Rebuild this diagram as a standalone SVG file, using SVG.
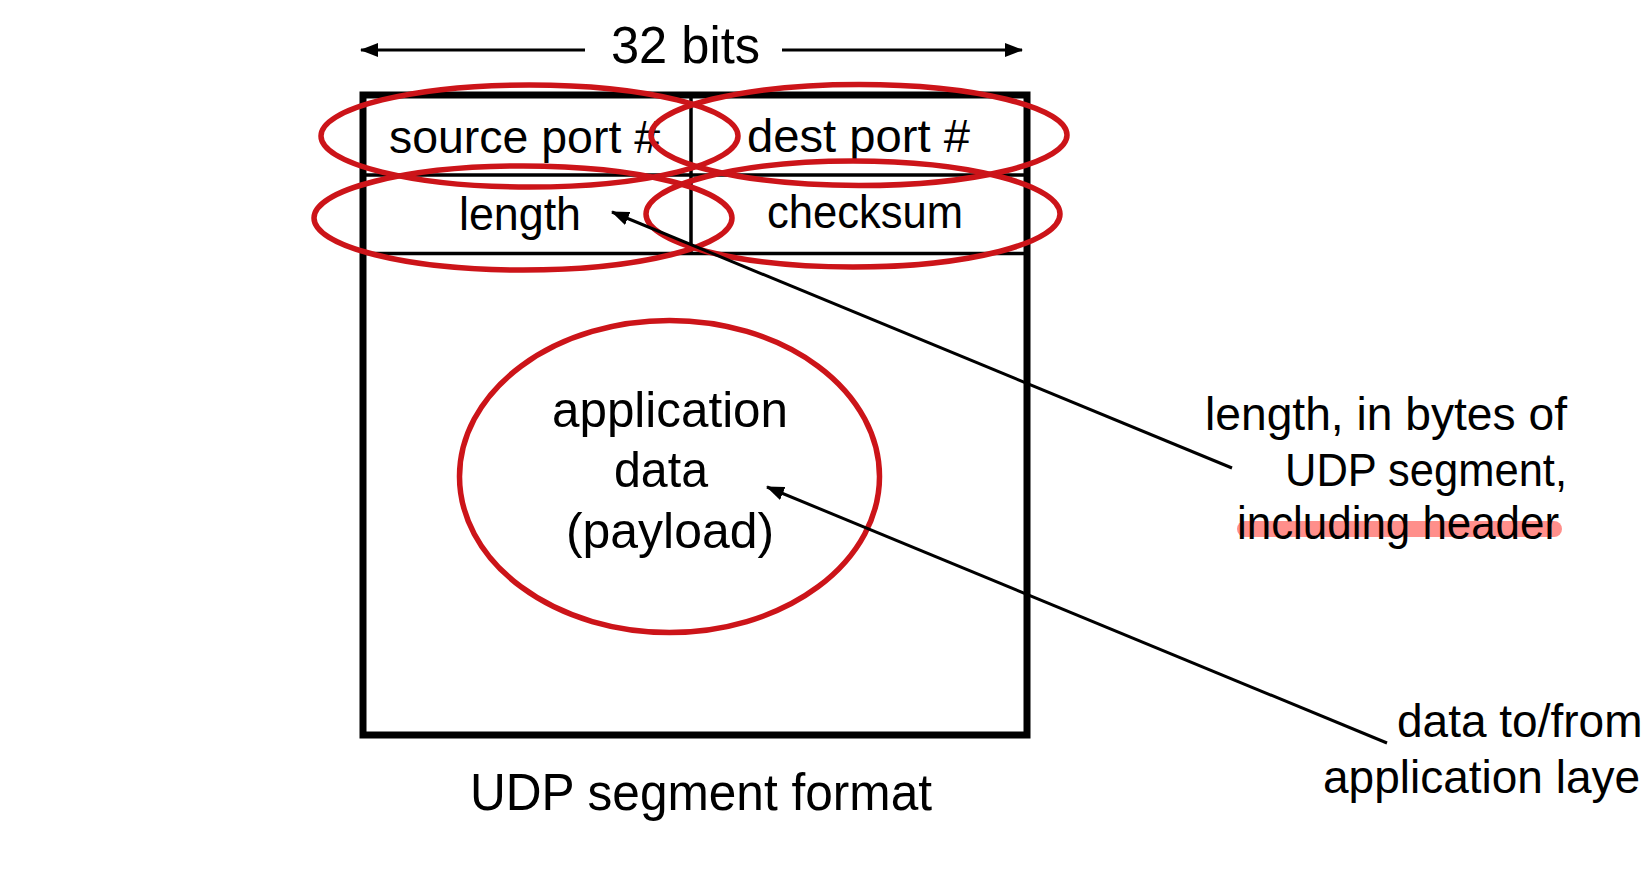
<svg xmlns="http://www.w3.org/2000/svg" width="1642" height="894" viewBox="0 0 1642 894">
<style>
text{font-family:"Liberation Sans",Arial,sans-serif;fill:#000}
.f{font-size:47px}
.p{font-size:50px}
.n{font-size:46px}
.big{font-size:52px}
.oval{fill:none;stroke:#CC1419;stroke-width:5.5}
.conn{stroke:#000;stroke-width:3;fill:none}
</style>
<defs>
<marker id="ah" markerUnits="userSpaceOnUse" markerWidth="18" markerHeight="14" refX="17" refY="7" orient="auto">
<path d="M0,0 L18,7 L0,14 Z" fill="#000"/>
</marker>
</defs>
<rect width="1642" height="894" fill="#fff"/>
<g id="segment">
<rect x="363" y="95" width="664" height="640" fill="none" stroke="#000" stroke-width="7"/>
<line x1="363" y1="175" x2="1027" y2="175" stroke="#000" stroke-width="3.5"/>
<line x1="363" y1="253.5" x2="1027" y2="253.5" stroke="#000" stroke-width="3.5"/>
<line x1="691" y1="95" x2="691" y2="253.5" stroke="#000" stroke-width="3.5"/>
</g>
<g id="source-port">
<text class="f" x="524.5" y="153" text-anchor="middle" textLength="271" lengthAdjust="spacingAndGlyphs">source port #</text>
<ellipse class="oval" cx="529.5" cy="136" rx="208.5" ry="51"/>
</g>
<g id="dest-port">
<text class="f" x="858.5" y="152" text-anchor="middle" textLength="223" lengthAdjust="spacingAndGlyphs">dest port #</text>
<ellipse class="oval" cx="859" cy="135" rx="208" ry="50.5"/>
</g>
<g id="length">
<text class="f" x="520" y="230" text-anchor="middle" textLength="122" lengthAdjust="spacingAndGlyphs">length</text>
<ellipse class="oval" cx="523" cy="218" rx="209" ry="52"/>
</g>
<g id="checksum">
<text class="f" x="865" y="228" text-anchor="middle" textLength="196" lengthAdjust="spacingAndGlyphs">checksum</text>
<ellipse class="oval" cx="853" cy="214" rx="207" ry="53"/>
</g>
<g id="payload">
<text class="p" x="670" y="427" text-anchor="middle" textLength="236" lengthAdjust="spacingAndGlyphs">application</text>
<text class="p" x="661" y="487" text-anchor="middle" textLength="94" lengthAdjust="spacingAndGlyphs">data</text>
<text class="p" x="670" y="548" text-anchor="middle" textLength="208" lengthAdjust="spacingAndGlyphs">(payload)</text>
<ellipse class="oval" cx="669.5" cy="476.5" rx="210" ry="156"/>
</g>
<g id="bits-label">
<text class="big" x="685.5" y="63" text-anchor="middle" textLength="149" lengthAdjust="spacingAndGlyphs">32 bits</text>
</g>
<g id="caption">
<text class="big" x="701" y="810" text-anchor="middle" textLength="462" lengthAdjust="spacingAndGlyphs">UDP segment format</text>
</g>
<g id="length-note">
<line x1="1245" y1="529" x2="1554" y2="529" stroke="#FF8F8B" stroke-width="16" stroke-linecap="round"/>
<text class="n" x="1567" y="430" text-anchor="end" textLength="362" lengthAdjust="spacingAndGlyphs">length, in bytes of</text>
<text class="n" x="1567" y="486" text-anchor="end" textLength="282" lengthAdjust="spacingAndGlyphs">UDP segment,</text>
<text class="n" x="1559" y="539" text-anchor="end" textLength="322" lengthAdjust="spacingAndGlyphs">including header</text>
</g>
<g id="data-note">
<text class="n" x="1397" y="737">data to/from</text>
<text class="n" x="1323" y="793">application layer</text>
</g>
<g id="connectors">
<line class="conn" x1="585" y1="50" x2="361" y2="50" marker-end="url(#ah)"/>
<line class="conn" x1="782" y1="50" x2="1022" y2="50" marker-end="url(#ah)"/>
<line class="conn" x1="1232" y1="468" x2="612" y2="212" marker-end="url(#ah)"/>
<line class="conn" x1="1387" y1="743" x2="767" y2="487" marker-end="url(#ah)"/>
</g>
</svg>
